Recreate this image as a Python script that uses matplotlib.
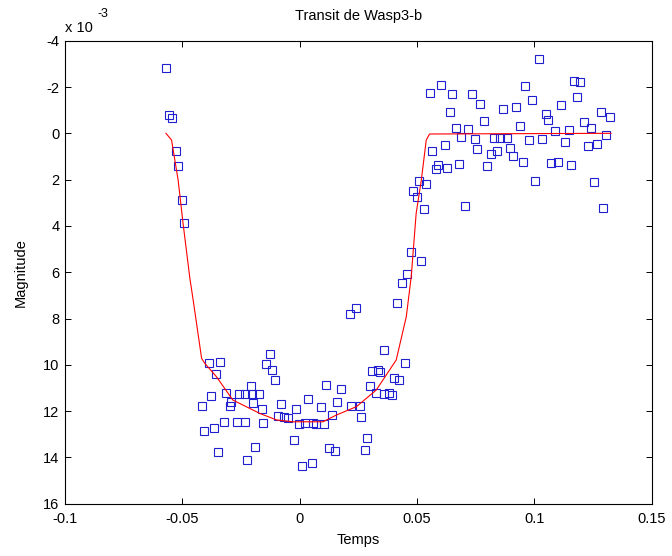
import matplotlib
matplotlib.use("Agg")
import matplotlib.pyplot as plt

plt.rcParams['font.family'] = ['Liberation Sans', 'DejaVu Sans']

# Observed points: time (days) and magnitude (x 1e-3)
time = [-0.0571, -0.0557, -0.0542, -0.0529, -0.0519, -0.0503, -0.0494,
        0.0214, 0.0238, 0.0414, 0.0434,
        -0.0386, -0.0339, -0.0356, -0.0125, -0.0142, -0.0116, -0.0104,
        0.0357, 0.0449, 0.0309, 0.0333, 0.0343, 0.0400, 0.0423,
        0.0113, 0.0176, 0.0301, 0.0323, 0.0360, 0.0380, 0.0394,
        -0.0207, -0.0312, -0.0376, -0.0258, -0.0234, -0.0203, -0.0174,
        -0.0291, -0.0298, -0.0197, -0.0418, -0.0162, -0.0078, 0.0037,
        0.0089, -0.0017, 0.0160, 0.0220, 0.0255, 0.0138, 0.0261,
        -0.0091, -0.0067, -0.0050, -0.0323, -0.0267, -0.0231, -0.0155,
        -0.0004, 0.0021, 0.0057, 0.0071, 0.0102, -0.0366, -0.0409,
        -0.0026, 0.0285, -0.0189, 0.0123, 0.0152, 0.0277, -0.0348,
        -0.0223, 0.0011, 0.0051,
        0.0472, 0.0515, 0.0458,
        0.1020, 0.1169, 0.1196, 0.0603, 0.0554, 0.0650, 0.0732, 0.0960,
        0.1183, 0.0989, 0.0770, 0.1115, 0.0923, 0.0865, 0.0640, 0.1282,
        0.1322, 0.1048, 0.1057, 0.1211, 0.0784, 0.0665, 0.0716, 0.0937,
        0.1240, 0.1086, 0.1145, 0.0689, 0.0746, 0.0826, 0.0855, 0.0884,
        0.0976, 0.1033, 0.1306, 0.1130, 0.1268, 0.1226, 0.0617, 0.0756,
        0.0897, 0.0563, 0.0841, 0.0813, 0.0909, 0.0952, 0.1072, 0.1100,
        0.1157, 0.0679, 0.0799, 0.0589, 0.0580, 0.0626, 0.1004, 0.1254,
        0.0506, 0.0540, 0.0484, 0.0498, 0.0530, 0.0702, 0.1292]
mag = [-2.81, -0.80, -0.67, 0.75, 1.43, 2.88, 3.86,
       7.81, 7.56, 7.32, 6.48,
       9.91, 9.89, 10.38, 9.55, 9.98, 10.22, 10.67,
       9.36, 9.94, 10.27, 10.21, 10.31, 10.57, 10.66,
       10.87, 11.05, 10.92, 11.20, 11.26, 11.20, 11.30,
       10.93, 11.20, 11.35, 11.26, 11.27, 11.27, 11.27,
       11.62, 11.78, 11.64, 11.79, 11.91, 11.68, 11.49,
       11.84, 11.92, 11.59, 11.79, 11.79, 12.17, 12.27,
       12.20, 12.27, 12.30, 12.48, 12.48, 12.48, 12.53,
       12.57, 12.53, 12.53, 12.57, 12.57, 12.72, 12.86,
       13.25, 13.15, 13.54, 13.58, 13.72, 13.69, 13.75,
       14.13, 14.36, 14.23,
       5.11, 5.50, 6.09,
       -3.20, -2.27, -2.23, -2.10, -1.74, -1.70, -1.70, -2.04,
       -1.55, -1.45, -1.25, -1.21, -1.15, -1.06, -0.92, -0.92,
       -0.72, -0.82, -0.57, -0.47, -0.53, -0.24, -0.17, -0.32,
       -0.23, -0.10, -0.14, 0.16, 0.25, 0.19, 0.19, 0.19,
       0.30, 0.25, 0.06, 0.39, 0.45, 0.54, 0.51, 0.68,
       0.65, 0.78, 0.78, 0.88, 0.98, 1.23, 1.27, 1.23,
       1.37, 1.31, 1.41, 1.36, 1.56, 1.51, 2.05, 2.10,
       2.05, 2.19, 2.48, 2.74, 3.27, 3.13, 3.23]

# Transit model curve
model_time = [-0.0570, -0.0546, -0.0518, -0.0497, -0.0468, -0.0454, -0.0418,
              -0.0404, -0.0355, -0.0285, -0.0170, -0.0099, -0.0028, 0.0099,
              0.0156, 0.0241, 0.0326, 0.0411, 0.0454, 0.0475, 0.0496,
              0.0518, 0.0539, 0.0553, 0.1326]
model_mag = [0.00, 0.29, 2.02, 3.89, 6.26, 7.20, 9.72,
             9.94, 10.51, 11.52, 12.10, 12.38, 12.46, 12.46,
             12.17, 11.81, 11.09, 9.79, 7.92, 6.19, 3.46,
             2.02, 0.29, 0.03, 0.00]

xticks = [-0.1, -0.05, 0, 0.05, 0.1, 0.15]
xtick_labels = ['-0.1', '-0.05', '0', '0.05', '0.1', '0.15']
yticks = [-4, -2, 0, 2, 4, 6, 8, 10, 12, 14, 16]

fig = plt.figure(figsize=(6.72, 5.56), dpi=100)
ax = fig.add_axes([0.0967, 0.094, 0.8733, 0.8328])

ax.plot(time, mag, linestyle='none', marker='s', markersize=6.4,
        markerfacecolor='none', markeredgecolor='#2020d0', markeredgewidth=0.8)
ax.plot(model_time, model_mag, color='#ff0000', linewidth=0.8)

ax.set_xlim(-0.1, 0.15)
ax.set_ylim(16, -4)
ax.set_xticks(xticks)
ax.set_xticklabels(xtick_labels)
ax.set_yticks(yticks)
ax.set_yticklabels([str(v) for v in yticks])
ax.tick_params(direction='in', length=4, width=0.7, top=True, right=True,
               labelsize=10.5, colors='black')
ax.tick_params(axis='x', pad=6)
ax.tick_params(axis='y', pad=4)
for s in ax.spines.values():
    s.set_linewidth(0.8)

ax.set_title('Transit de Wasp3-b', fontsize=10.5, pad=15)
ax.set_xlabel('Temps', fontsize=10.5, labelpad=5)
ax.set_ylabel('Magnitude', fontsize=10.5, labelpad=11)

ax.text(0.0, 1.012, 'x 10', transform=ax.transAxes, fontsize=10.5,
        ha='left', va='bottom')
ax.text(0.055, 1.045, '-3', transform=ax.transAxes, fontsize=9,
        ha='left', va='bottom')

fig.savefig('out.png', dpi=100)
